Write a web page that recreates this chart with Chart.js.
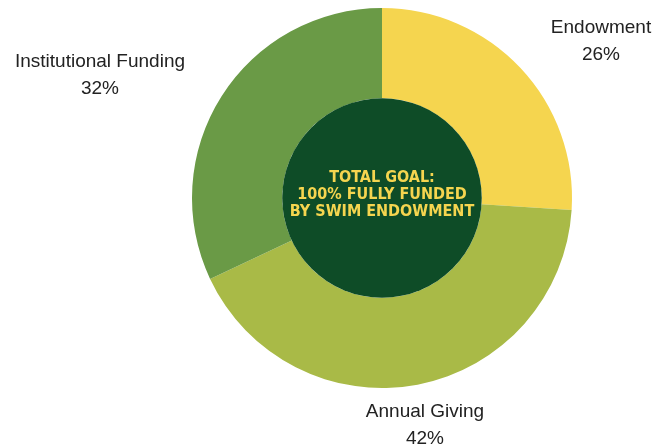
<!DOCTYPE html>
<html>
<head>
<meta charset="utf-8">
<script src="https://cdn.jsdelivr.net/npm/chart.js@4"></script>
<style>
  html, body { margin: 0; padding: 0; background: #fff; }
  #wrap { width: 672px; height: 447px; }
</style>
</head>
<body>
<div id="wrap"><canvas id="myChart"></canvas></div>
<script>
// data
var categories = ["Endowment", "Annual Giving", "Institutional Funding"];
var shares = [26, 42, 32];
var sliceColors = ["#F5D54F", "#A9BA47", "#6A9A46"];
var centerLines = ["TOTAL GOAL:", "100% FULLY FUNDED", "BY SWIM ENDOWMENT"];

// label anchor offsets from the pie center (px), one per slice
var labelOffsets = [[219, -170], [43, 214], [-282, -136]];

var centerPlugin = {
    id: "centerPlugin",
    afterDatasetsDraw: function (chart) {
        var ctx = chart.ctx;
        var arc = chart.getDatasetMeta(0).data[0];
        var cx = arc.x, cy = arc.y;

        // dark inner disc
        ctx.save();
        ctx.beginPath();
        ctx.arc(cx, cy, arc.innerRadius, 0, Math.PI * 2);
        ctx.fillStyle = "#0E4C27";
        ctx.fill();

        ctx.fillStyle = "#F5D54F";
        ctx.font = "bold 16px 'DejaVu Sans Condensed', 'DejaVu Sans'";
        ctx.textAlign = "center";
        ctx.textBaseline = "middle";
        for (var i = 0; i < centerLines.length; i++) {
            ctx.fillText(centerLines[i], cx, cy - 20 + i * 17);
        }

        // outside labels
        ctx.fillStyle = "#222222";
        ctx.font = "19px 'Liberation Sans', Arial";
        var data = chart.data.datasets[0].data;
        for (var j = 0; j < categories.length; j++) {
            var lx = cx + labelOffsets[j][0];
            var ly = cy + labelOffsets[j][1];
            ctx.fillText(categories[j], lx, ly);
            ctx.fillText(data[j] + "%", lx, ly + 27);
        }
        ctx.restore();
    }
};

new Chart("myChart", {
    type: "doughnut",
    data: {
        labels: categories,
        datasets: [{
            data: shares,
            backgroundColor: sliceColors,
            borderWidth: 0
        }]
    },
    options: {
        responsive: true,
        maintainAspectRatio: false,
        animation: false,
        cutout: "52.5%",
        layout: { padding: { top: 8, bottom: 59, left: 100, right: 8 } },
        plugins: {
            legend: { display: false },
            tooltip: { enabled: false }
        }
    },
    plugins: [centerPlugin]
});
</script>
</body>
</html>
